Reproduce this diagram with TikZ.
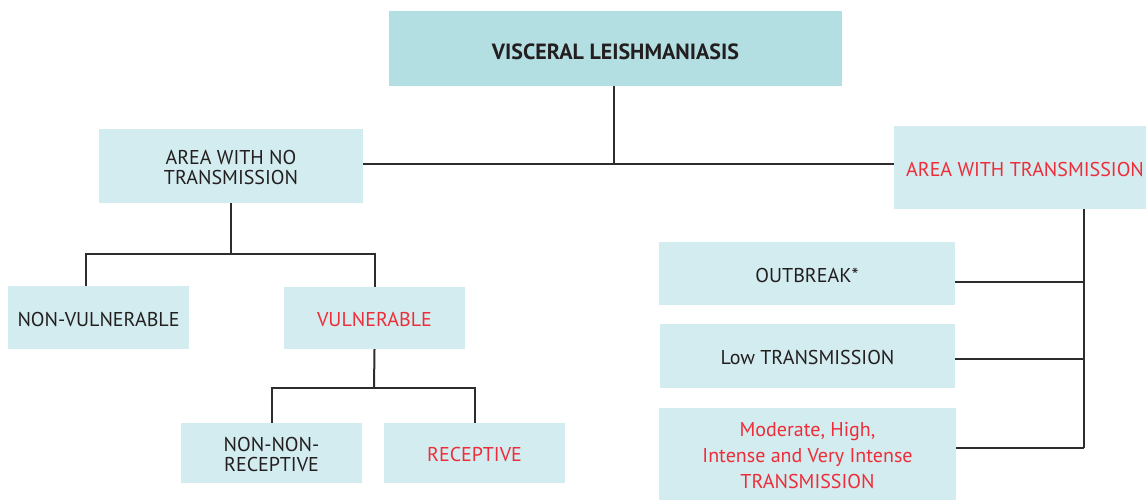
\documentclass[tikz,border=0pt]{standalone}
\usepackage{fontspec}
\setmainfont{PT Sans}
\definecolor{topfill}{HTML}{B3DFE2}
\definecolor{boxfill}{HTML}{D3ECEF}
\definecolor{inkdark}{HTML}{231F20}
\definecolor{inkred}{HTML}{EE2D3A}
\definecolor{wire}{HTML}{2E2C2D}
% set a (possibly multi-line) label a little below the optical centre
\newcommand\boxtext[2][4.5pt]{\raisebox{-#1}[\height][\depth]{\begin{tabular}{@{}c@{}}#2\end{tabular}}}
\tikzset{
  box/.style={fill=boxfill, inner sep=0pt, align=center, text=inkdark,
    font=\fontsize{20}{20.7}\selectfont},
  topbox/.style={box, fill=topfill, font=\fontsize{22}{25}\selectfont\bfseries},
  redtext/.style={text=inkred},
  link/.style={draw=wire, line width=2pt},
}
\begin{document}
\begin{tikzpicture}[x=1pt,y=-1pt]
\useasboundingbox (0,0) rectangle (1146,499);

% boxes
\node[topbox, minimum width=453pt, minimum height=75pt] (vl) at (615.5,48.5) {\boxtext[6pt]{VISCERAL LEISHMANIASIS}};
\node[box, minimum width=264pt, minimum height=74pt] (nt) at (231,166) {\boxtext{AREA WITH NO\\TRANSMISSION}};
\node[box, redtext, minimum width=262pt, minimum height=83pt] (wt) at (1025,167.5) {\boxtext{AREA WITH TRANSMISSION}};
\node[box, minimum width=181pt, minimum height=63pt] (nv) at (98.5,317.5) {\boxtext{NON-VULNERABLE}};
\node[box, redtext, minimum width=181pt, minimum height=62pt] (vu) at (374.5,318) {\boxtext{VULNERABLE}};
\node[box, minimum width=181pt, minimum height=60pt] (nr) at (271.5,453) {\boxtext{NON-NON-\\RECEPTIVE}};
\node[box, redtext, minimum width=181pt, minimum height=60pt] (re) at (474.5,453) {\boxtext{RECEPTIVE}};
\node[box, minimum width=296pt, minimum height=63pt] (ob) at (807,273.5) {\boxtext{OUTBREAK*}};
\node[box, minimum width=295pt, minimum height=64pt] (lt) at (807.5,356) {\boxtext{Low TRANSMISSION}};
\node[box, redtext, minimum width=297pt, minimum height=96pt, font=\fontsize{20}{26}\selectfont] (ht) at (807.5,456) {Moderate, High,\\Intense and Very Intense\\TRANSMISSION};

% junction points
\coordinate (j0) at (614,164);
\coordinate (j1) at (231,254);
\coordinate (j2) at (374,388);
\coordinate (j3) at (1084,448);

% top split
\draw[link] (vl.south -| j0) -- (j0);
\draw[link] (nt.east |- j0) -- (wt.west |- j0);

% area with no transmission
\draw[link] (nt.south -| j1) -- (j1);
\draw[link] (nv.north -| 86,0) |- (j1) -| (vu.north);

% vulnerable
\draw[link] (vu.south) -- (j2);
\draw[link] (nr.north) |- (j2) -| (re.north);

% area with transmission
\draw[link] (wt.south -| j3) -- (j3);
\draw[link] (ob.east |- 0,282) -- (1084,282);
\draw[link] (lt.east |- 0,359) -- (1084,359);
\draw[link] (ht.east |- j3) -- (j3);
\end{tikzpicture}
\end{document}
